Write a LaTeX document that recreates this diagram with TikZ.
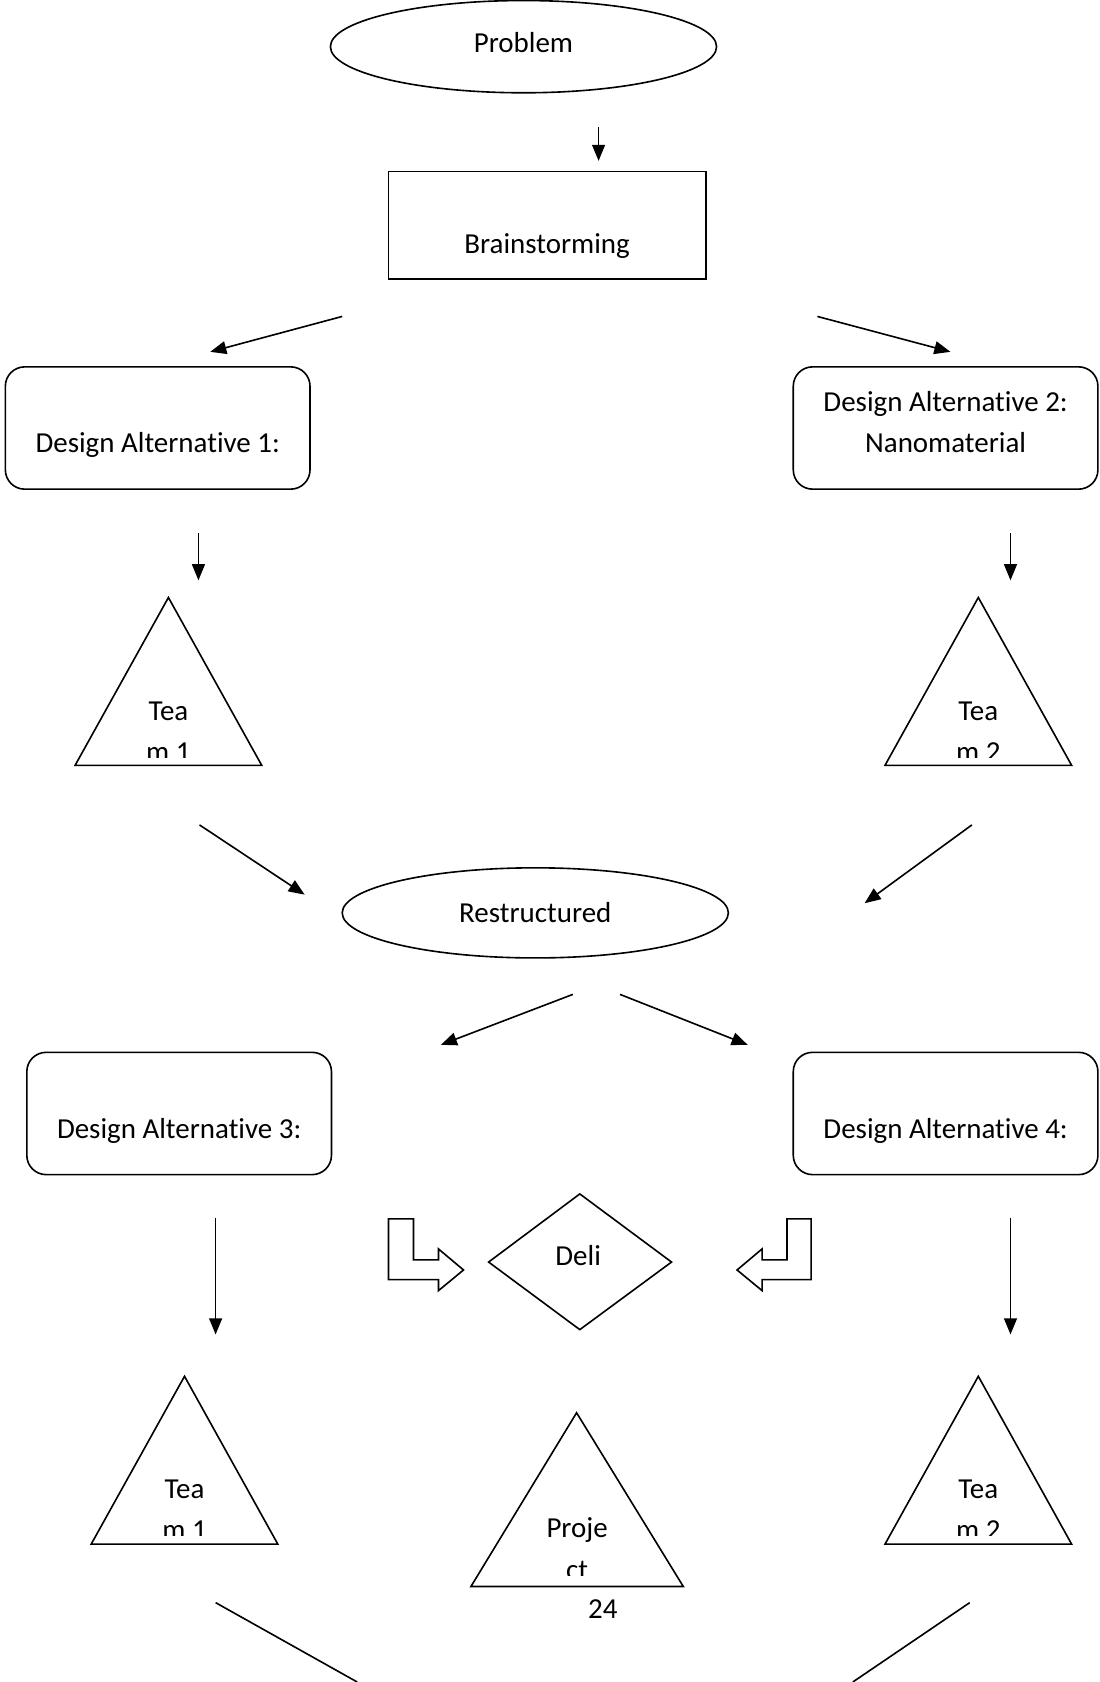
\documentclass[tikz,border=0pt]{standalone}
\usepackage{fontspec}
\setmainfont{Carlito}[RawFeature={-liga;-clig;-dlig}]
\usetikzlibrary{shapes.geometric,arrows.meta}
\begin{document}
\begin{tikzpicture}[x=1pt,y=-1pt,
  shp/.style={draw, line width=1.5pt, line join=miter},
  arr/.style={line width=1.5pt, -{Triangle[length=15pt,width=12pt]}},
  pline/.style={line width=1.5pt},
  lbl/.style={anchor=base, inner sep=0pt, font=\fontsize{27}{38}\selectfont},
  rbox/.style={draw, line width=1.5pt, rounded corners=18pt, minimum width=284pt, minimum height=114pt, inner sep=0pt},
  ell/.style={draw, line width=1.5pt, ellipse, minimum width=360pt, inner sep=0pt},
]
\useasboundingbox (0,0) rectangle (1025,1568);

% Problem
\node[ell, minimum height=86pt] (prob) at (488,43.5) {};
\node[lbl] (probt) at (488,49) {Problem};
\coordinate (a1s) at (558,118); \coordinate (a1e) at (558,150);
\draw[arr] (a1s) -- (a1e);

% Brainstorming
\node[draw, line width=1.5pt, minimum width=296pt, minimum height=100pt, inner sep=0pt] (brain) at (510,210) {};
\node[lbl] (braint) at (510,236) {Brainstorming};
\coordinate (a2s) at (319,295); \coordinate (a2e) at (196,328);
\coordinate (a3s) at (762,295); \coordinate (a3e) at (886,328);
\draw[arr] (a2s) -- (a2e);
\draw[arr] (a3s) -- (a3e);

% Design alternatives 1,2
\node[rbox] (da1) at (147,399) {};
\node[lbl] (da1t) at (147,422) {Design Alternative 1:};
\node[rbox] (da2) at (881.5,399) {};
\node[lbl] (da2t) at (881.5,384) {Design Alternative 2:};
\node[lbl] (da2u) at (881.5,422) {Nanomaterial};
\coordinate (a4s) at (185,497); \coordinate (a4e) at (185,541);
\coordinate (a5s) at (942,497); \coordinate (a5e) at (942,541);
\draw[arr] (a4s) -- (a4e);
\draw[arr] (a5s) -- (a5e);

% Team triangles 1,2
\draw[shp] (157,557) -- (244,713.5) -- (70,713.5) -- cycle;
\node[lbl] (t1a) at (157,672) {Tea};
\begin{scope}
\clip (60,600) rectangle (260,706);
\node[lbl] (t1b) at (157,710) {m 1};
\end{scope}
\draw[shp] (912,557) -- (999,713.5) -- (825,713.5) -- cycle;
\node[lbl] (t2a) at (912,672) {Tea};
\begin{scope}
\clip (815,600) rectangle (1010,706);
\node[lbl] (t2b) at (912,710) {m 2};
\end{scope}
\coordinate (a6s) at (186,769); \coordinate (a6e) at (284,834);
\coordinate (a7s) at (906,769); \coordinate (a7e) at (806,842);
\draw[arr] (a6s) -- (a6e);
\draw[arr] (a7s) -- (a7e);

% Restructured
\node[ell, minimum height=84pt] (rest) at (499,851) {};
\node[lbl] (restt) at (499,860) {Restructured};
\coordinate (a8s) at (534,927); \coordinate (a8e) at (411,974);
\coordinate (a9s) at (578,927); \coordinate (a9e) at (697,974);
\draw[arr] (a8s) -- (a8e);
\draw[arr] (a9s) -- (a9e);

% Design alternatives 3,4
\node[rbox] (da3) at (167,1038) {};
\node[lbl] (da3t) at (167,1061) {Design Alternative 3:};
\node[rbox] (da4) at (881.5,1038) {};
\node[lbl] (da4t) at (881.5,1061) {Design Alternative 4:};
\coordinate (a10s) at (201,1135); \coordinate (a10e) at (201,1244);
\coordinate (a11s) at (942,1135); \coordinate (a11e) at (942,1244);
\draw[arr] (a10s) -- (a10e);
\draw[arr] (a11s) -- (a11e);

% Deliverable diamond and bent arrows
\draw[shp] (540.5,1113) -- (626,1176.5) -- (540.5,1239.5) -- (455.5,1176.5) -- cycle;
\node[lbl] (delit) at (539,1180) {Deli};
\draw[shp] (362.2,1136.3) -- (385.5,1136.3) -- (385.5,1174.5) -- (408.8,1174.5) -- (408.8,1164.3) -- (432.1,1183.9) -- (408.8,1203.1) -- (408.8,1192.9) -- (362.2,1192.9) -- cycle;
\draw[shp] (756.1,1136.3) -- (733.7,1136.3) -- (733.7,1174.5) -- (710.4,1174.5) -- (710.4,1164.3) -- (687.1,1183.9) -- (710.4,1203.1) -- (710.4,1192.9) -- (756.1,1192.9) -- cycle;

% Team triangles 3,4
\draw[shp] (172,1283) -- (259,1439.5) -- (85,1439.5) -- cycle;
\node[lbl] (t3a) at (172,1397) {Tea};
\begin{scope}
\clip (75,1330) rectangle (270,1431);
\node[lbl] (t3b) at (172,1435) {m 1};
\end{scope}
\draw[shp] (912,1283) -- (999,1439.5) -- (825,1439.5) -- cycle;
\node[lbl] (t4a) at (912,1397) {Tea};
\begin{scope}
\clip (815,1330) rectangle (1010,1431);
\node[lbl] (t4b) at (912,1435) {m 2};
\end{scope}

% Project triangle
\draw[shp] (537.5,1317) -- (637,1479) -- (439,1479) -- cycle;
\node[lbl] (pa) at (538,1433) {Proje};
\begin{scope}
\clip (430,1380) rectangle (650,1469);
\node[lbl] (pb) at (538,1472) {ct};
\end{scope}
\node[lbl] (pagenum) at (562,1509) {24};

% bottom lines
\coordinate (b1s) at (201,1494); \coordinate (b1e) at (333,1568);
\coordinate (b2s) at (904,1494); \coordinate (b2e) at (795,1568);
\draw[pline] (b1s) -- (b1e);
\draw[pline] (b2s) -- (b2e);
\end{tikzpicture}
\end{document}
